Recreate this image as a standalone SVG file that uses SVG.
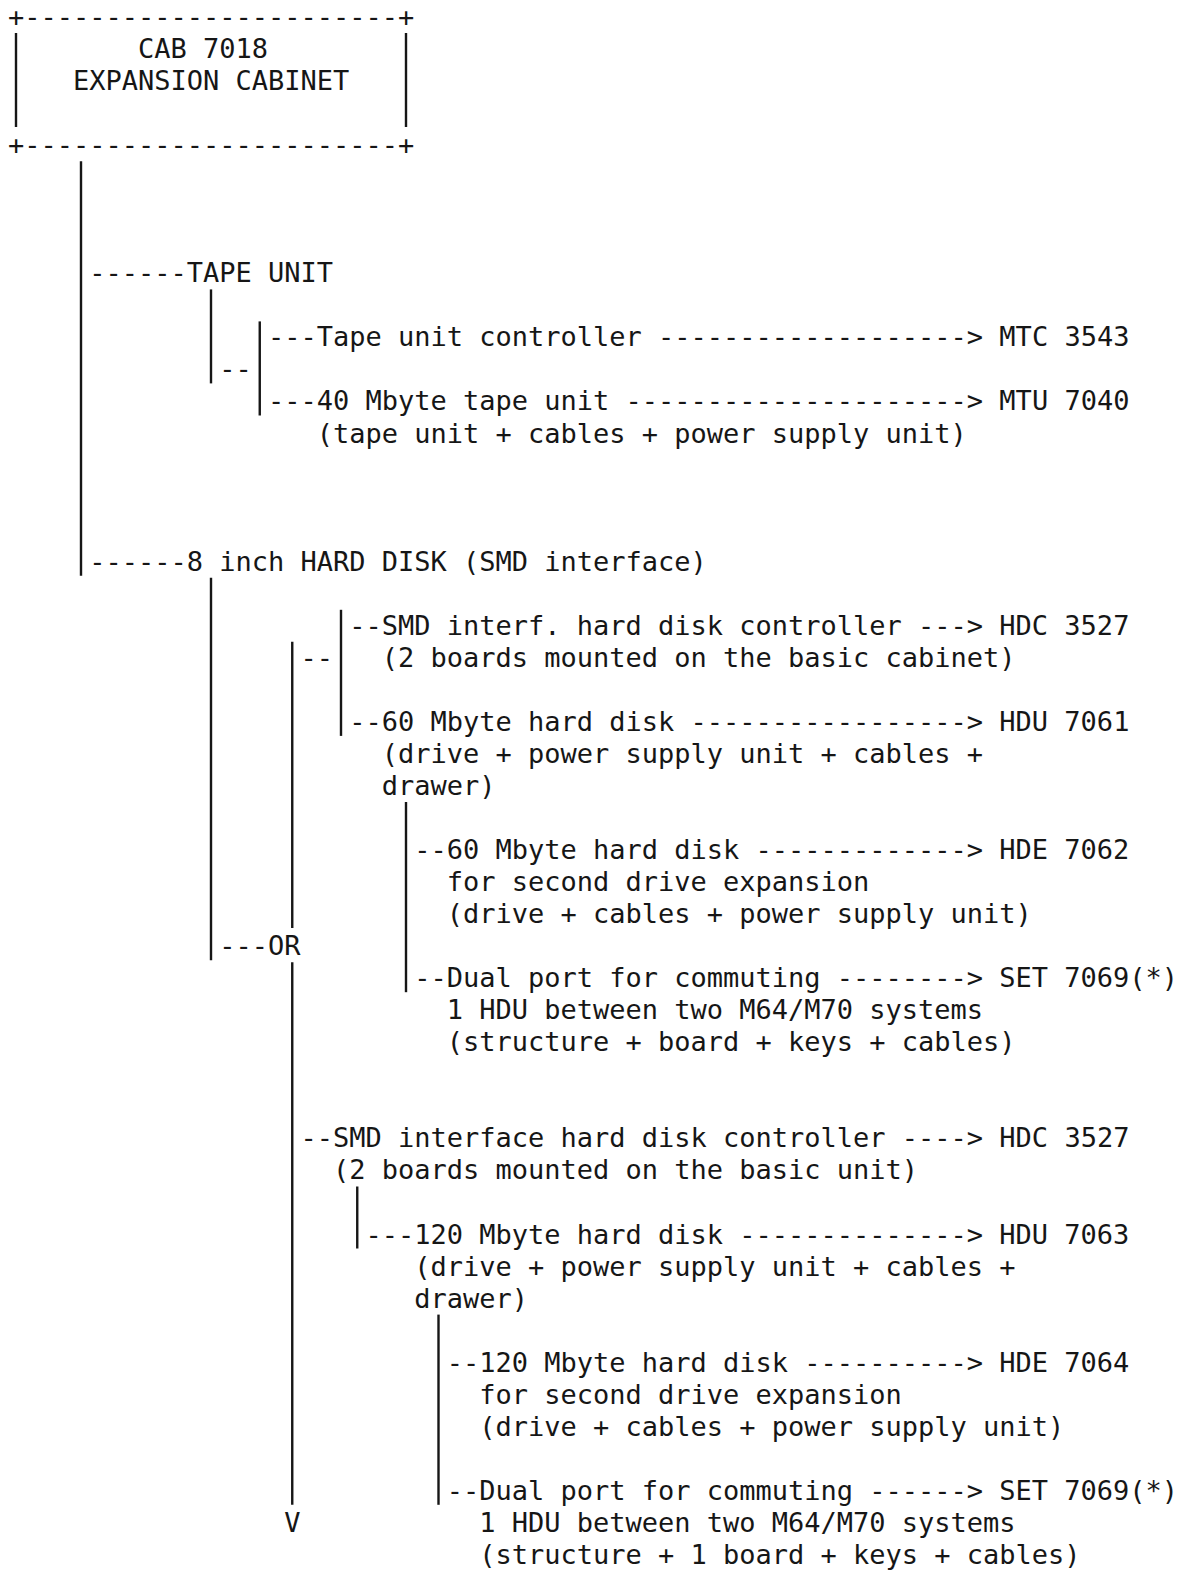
<svg xmlns="http://www.w3.org/2000/svg" width="1191" height="1571" viewBox="0 0 1191 1571">
<style>
  .t { font-family: "DejaVu Sans Mono", "Liberation Mono", monospace; font-size: 27px; fill: #161616; white-space: pre; }
  .v { stroke: #161616; stroke-width: 2.4; fill: none; }
</style>
<rect x="0" y="0" width="1191" height="1571" fill="#ffffff"/>

<g id="node-cab7018">
  <text class="t" x="7.875" y="26">+-----------------------+</text>
  <line class="v" x1="16" y1="33" x2="16" y2="127"/>
  <line class="v" x1="406" y1="33" x2="406" y2="127"/>
  <text class="t" x="137.875" y="58.04">CAB 7018</text>
  <text class="t" x="72.875" y="90.08">EXPANSION CABINET</text>
  <text class="t" x="7.875" y="154.16">+-----------------------+</text>
</g>

<g id="connectors">
  <line class="v" x1="81" y1="161.2" x2="81" y2="575.7"/>
  <line class="v" x1="211" y1="289.4" x2="211" y2="383.4"/>
  <line class="v" x1="259.75" y1="321.4" x2="259.75" y2="415.5"/>
  <text class="t" x="219.125" y="378.44">--</text>
  <line class="v" x1="211" y1="577.7" x2="211" y2="960.2"/>
  <line class="v" x1="292.25" y1="641.8" x2="292.25" y2="928.1"/>
  <line class="v" x1="292.25" y1="962.2" x2="292.25" y2="1504.8"/>
  <line class="v" x1="341" y1="609.8" x2="341" y2="735.9"/>
  <text class="t" x="300.375" y="666.8">--</text>
  <line class="v" x1="406" y1="802" x2="406" y2="992.2"/>
  <line class="v" x1="357.25" y1="1186.5" x2="357.25" y2="1248.5"/>
  <line class="v" x1="438.5" y1="1314.6" x2="438.5" y2="1504.8"/>
  <text class="t" x="284.125" y="1531.88">V</text>
</g>

<g id="node-tape-unit">
  <text class="t" x="89.125" y="282.32">------TAPE UNIT</text>
</g>
<g id="node-mtc3543">
  <text class="t" x="267.875" y="346.4">---Tape unit controller -------------------&gt; MTC 3543</text>
</g>
<g id="node-mtu7040">
  <text class="t" x="267.875" y="410.48">---40 Mbyte tape unit ---------------------&gt; MTU 7040</text>
  <text class="t" x="316.625" y="442.52">(tape unit + cables + power supply unit)</text>
</g>

<g id="node-hard-disk">
  <text class="t" x="89.125" y="570.68">------8 inch HARD DISK (SMD interface)</text>
</g>
<g id="node-hdc3527-a">
  <text class="t" x="349.125" y="634.76">--SMD interf. hard disk controller ---&gt; HDC 3527</text>
  <text class="t" x="381.625" y="666.8">(2 boards mounted on the basic cabinet)</text>
</g>
<g id="node-hdu7061">
  <text class="t" x="349.125" y="730.88">--60 Mbyte hard disk -----------------&gt; HDU 7061</text>
  <text class="t" x="381.625" y="762.92">(drive + power supply unit + cables +</text>
  <text class="t" x="381.625" y="794.96">drawer)</text>
</g>
<g id="node-hde7062">
  <text class="t" x="414.125" y="859.04">--60 Mbyte hard disk -------------&gt; HDE 7062</text>
  <text class="t" x="446.625" y="891.08">for second drive expansion</text>
  <text class="t" x="446.625" y="923.12">(drive + cables + power supply unit)</text>
</g>
<g id="node-or">
  <text class="t" x="219.125" y="955.16">---OR</text>
</g>
<g id="node-set7069-a">
  <text class="t" x="414.125" y="987.2">--Dual port for commuting --------&gt; SET 7069(*)</text>
  <text class="t" x="446.625" y="1019.24">1 HDU between two M64/M70 systems</text>
  <text class="t" x="446.625" y="1051.28">(structure + board + keys + cables)</text>
</g>

<g id="node-hdc3527-b">
  <text class="t" x="300.375" y="1147.4">--SMD interface hard disk controller ----&gt; HDC 3527</text>
  <text class="t" x="332.875" y="1179.44">(2 boards mounted on the basic unit)</text>
</g>
<g id="node-hdu7063">
  <text class="t" x="365.375" y="1243.52">---120 Mbyte hard disk --------------&gt; HDU 7063</text>
  <text class="t" x="414.125" y="1275.56">(drive + power supply unit + cables +</text>
  <text class="t" x="414.125" y="1307.6">drawer)</text>
</g>
<g id="node-hde7064">
  <text class="t" x="446.625" y="1371.68">--120 Mbyte hard disk ----------&gt; HDE 7064</text>
  <text class="t" x="479.125" y="1403.72">for second drive expansion</text>
  <text class="t" x="479.125" y="1435.76">(drive + cables + power supply unit)</text>
</g>
<g id="node-set7069-b">
  <text class="t" x="446.625" y="1499.84">--Dual port for commuting ------&gt; SET 7069(*)</text>
  <text class="t" x="479.125" y="1531.88">1 HDU between two M64/M70 systems</text>
  <text class="t" x="479.125" y="1563.92">(structure + 1 board + keys + cables)</text>
</g>
</svg>
